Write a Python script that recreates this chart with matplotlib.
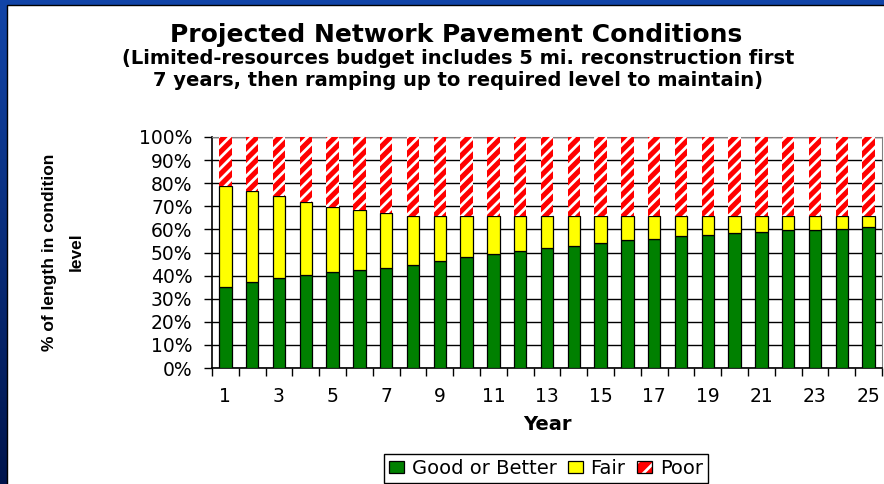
import numpy as np
import matplotlib.pyplot as plt
from matplotlib.patches import Patch, Rectangle
from matplotlib.legend_handler import HandlerTuple

# Dane (procent dlugosci sieci w danym stanie)
years = list(range(1, 26))
good = [35.2, 37.3, 39.1, 40.4, 41.5, 42.5, 43.3, 44.4, 46.2, 47.9, 49.5, 50.7, 52.0,
        53.0, 54.1, 55.3, 56.0, 57.2, 57.7, 58.6, 59.0, 59.6, 59.8, 60.3, 60.9]
fair = [43.7, 39.4, 35.3, 31.5, 28.1, 26.0, 23.6, 21.2, 19.4, 17.7, 16.1, 14.9, 13.6,
        12.6, 11.5, 10.3, 9.6, 8.4, 7.9, 7.0, 6.6, 6.0, 5.8, 5.3, 4.7]
poor = [21.1, 23.3, 25.6, 28.1, 30.4, 31.5, 33.1, 34.4, 34.4, 34.4, 34.4, 34.4, 34.4,
        34.4, 34.4, 34.4, 34.4, 34.4, 34.4, 34.4, 34.4, 34.4, 34.4, 34.4, 34.4]
series_names = ['Good or Better', 'Fair', 'Poor']
year_labels = [str(y) for y in years if y % 2 == 1]

plt.rcParams['font.family'] = 'DejaVu Sans'
plt.rcParams['hatch.linewidth'] = 2.0

W, H = 884, 484
fig = plt.figure(figsize=(W / 100, H / 100), dpi=100)

# Tlo: niebieska ramka z gradientem i biały panel
bg = fig.add_axes([0, 0, 1, 1], zorder=-10)
grad = np.linspace(0, 1, 256)[:, None]
top_c = np.array([0.07, 0.27, 0.66])
bot_c = np.array([0.0, 0.08, 0.30])
img = top_c[None, None, :] * (1 - grad[:, :, None]) + bot_c[None, None, :] * grad[:, :, None]
bg.imshow(img, aspect='auto', extent=[0, 1, 0, 1])
bg.add_patch(Rectangle((7 / W, -0.01), 1.0, 1 - 5 / H + 0.01, transform=bg.transAxes,
                       facecolor='white', edgecolor='black', linewidth=1.0))
bg.set_xlim(0, 1)
bg.set_ylim(0, 1)
bg.axis('off')

# Wykres
ax = fig.add_axes([212 / W, 1 - 368 / H, 670 / W, 231 / H])
x = np.array(years)
g = np.array(good) / 100
f = np.array(fair) / 100
p = np.array(poor) / 100
bw = 0.46

ax.bar(x, g, bw, color='#008000', edgecolor='black', linewidth=0.9, zorder=3)
ax.bar(x, f, bw, bottom=g, color='#FFFF00', edgecolor='black', linewidth=0.9, zorder=3)
ax.bar(x, p, bw, bottom=g + f, color='#FF0000', linewidth=0, zorder=3)
ax.bar(x, p, bw, bottom=g + f, facecolor='none', edgecolor='white', hatch='///',
       linewidth=0, zorder=4)

ax.set_xlim(0.5, 25.5)
ax.set_ylim(0, 1)
ax.set_yticks(np.arange(0, 1.01, 0.1))
ax.set_yticklabels([f'{int(round(v * 100))}%' for v in np.arange(0, 1.01, 0.1)])
ax.yaxis.grid(True, color='black', linewidth=1.0, zorder=0)
ax.set_axisbelow(True)

ax.set_xticks(np.arange(0.5, 25.6, 1.0))
ax.set_xticklabels([])
ax.set_xticks([y for y in years if y % 2 == 1], minor=True)
ax.set_xticklabels(year_labels, minor=True)
ax.tick_params(axis='x', which='major', length=6, width=1, direction='out')
ax.tick_params(axis='x', which='minor', length=0, pad=14, labelsize=13.5)
ax.tick_params(axis='y', length=6, width=1, direction='out', pad=8, labelsize=13.5)

for s in ['left', 'bottom']:
    ax.spines[s].set_color('black')
    ax.spines[s].set_linewidth(1.2)
ax.spines['top'].set_color('#808080')
ax.spines['right'].set_color('#808080')

# Teksty
fig.text(456 / W, 1 - 35 / H, 'Projected Network Pavement Conditions',
         ha='center', va='center', fontsize=18, fontweight='bold')
fig.text(458 / W, 1 - 69.5 / H,
         '(Limited-resources budget includes 5 mi. reconstruction first\n'
         '7 years, then ramping up to required level to maintain)',
         ha='center', va='center', fontsize=14, fontweight='bold', linespacing=1.15)
fig.text(547 / W, 1 - 424 / H, 'Year', ha='center', va='center',
         fontsize=14, fontweight='bold')
fig.text(63 / W, 1 - 252 / H, '% of length in condition\nlevel', rotation=90,
         ha='center', va='center', multialignment='center', fontsize=12.5,
         fontweight='bold', family='Liberation Sans', linespacing=2.0)

# Legenda
h_good = Patch(facecolor='#008000', edgecolor='black', linewidth=0.9)
h_fair = Patch(facecolor='#FFFF00', edgecolor='black', linewidth=0.9)
h_poor = (Patch(facecolor='#FF0000', linewidth=0),
          Patch(facecolor='none', edgecolor='white', hatch='//', linewidth=0),
          Patch(facecolor='none', edgecolor='black', linewidth=0.9))
leg = fig.legend([h_good, h_fair, h_poor], series_names, loc='upper center',
                 bbox_to_anchor=(546 / W, 1 - 454 / H), ncol=3, fontsize=14,
                 frameon=True, fancybox=False, edgecolor='black', framealpha=1,
                 handlelength=0.75, handleheight=0.55, handletextpad=0.4,
                 columnspacing=0.6, borderpad=0.25, borderaxespad=0,
                 handler_map={tuple: HandlerTuple(ndivide=1, pad=0)})
leg.get_frame().set_linewidth(1.0)

fig.savefig('out.png', dpi=100)
